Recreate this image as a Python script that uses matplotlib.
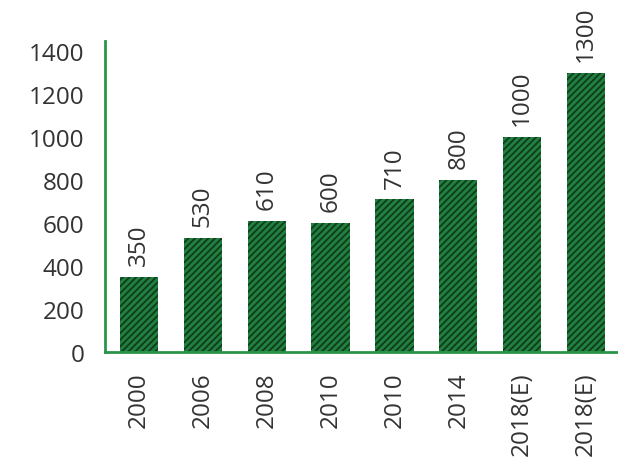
import matplotlib
matplotlib.use("Agg")
import matplotlib.pyplot as plt

categories = ["2000", "2006", "2008", "2010", "2010", "2014", "2018(E)", "2018(E)"]
values = [350, 530, 610, 600, 710, 800, 1000, 1300]
yticks = [0, 200, 400, 600, 800, 1000, 1200, 1400]

green = "#217f40"
dark = "#0f3d1c"
text_color = "#333333"

plt.rcParams["font.family"] = ["Open Sans", "DejaVu Sans"]
plt.rcParams["hatch.linewidth"] = 1.3
fig = plt.figure(figsize=(6.18, 4.6), dpi=100)
ax = fig.add_axes([0.17, 0.2326, 0.83, 0.676])

x = list(range(len(categories)))
bars = ax.bar(x, values, width=0.6, color=green, edgecolor=dark, hatch="/////", linewidth=0)

for xi, v in zip(x, values):
    ax.text(xi, v + 55, str(v), rotation=90, ha="center", va="bottom",
            fontsize=17.5, color=text_color)

ax.set_xlim(-0.53, 7.5)
ax.set_ylim(0, 1447)
ax.set_xticks(x)
ax.set_xticklabels(categories, rotation=90, fontsize=17.5, color=text_color)
ax.set_yticks(yticks)
ax.set_yticklabels([str(t) for t in yticks], fontsize=17.5, color=text_color)
ax.tick_params(length=0)
ax.tick_params(axis="y", pad=15)
ax.tick_params(axis="x", pad=14)

for s in ["top", "right"]:
    ax.spines[s].set_visible(False)
for s in ["left", "bottom"]:
    ax.spines[s].set_color("#2a9548")
    ax.spines[s].set_linewidth(2)

fig.savefig("out.png", dpi=100, facecolor="white")
